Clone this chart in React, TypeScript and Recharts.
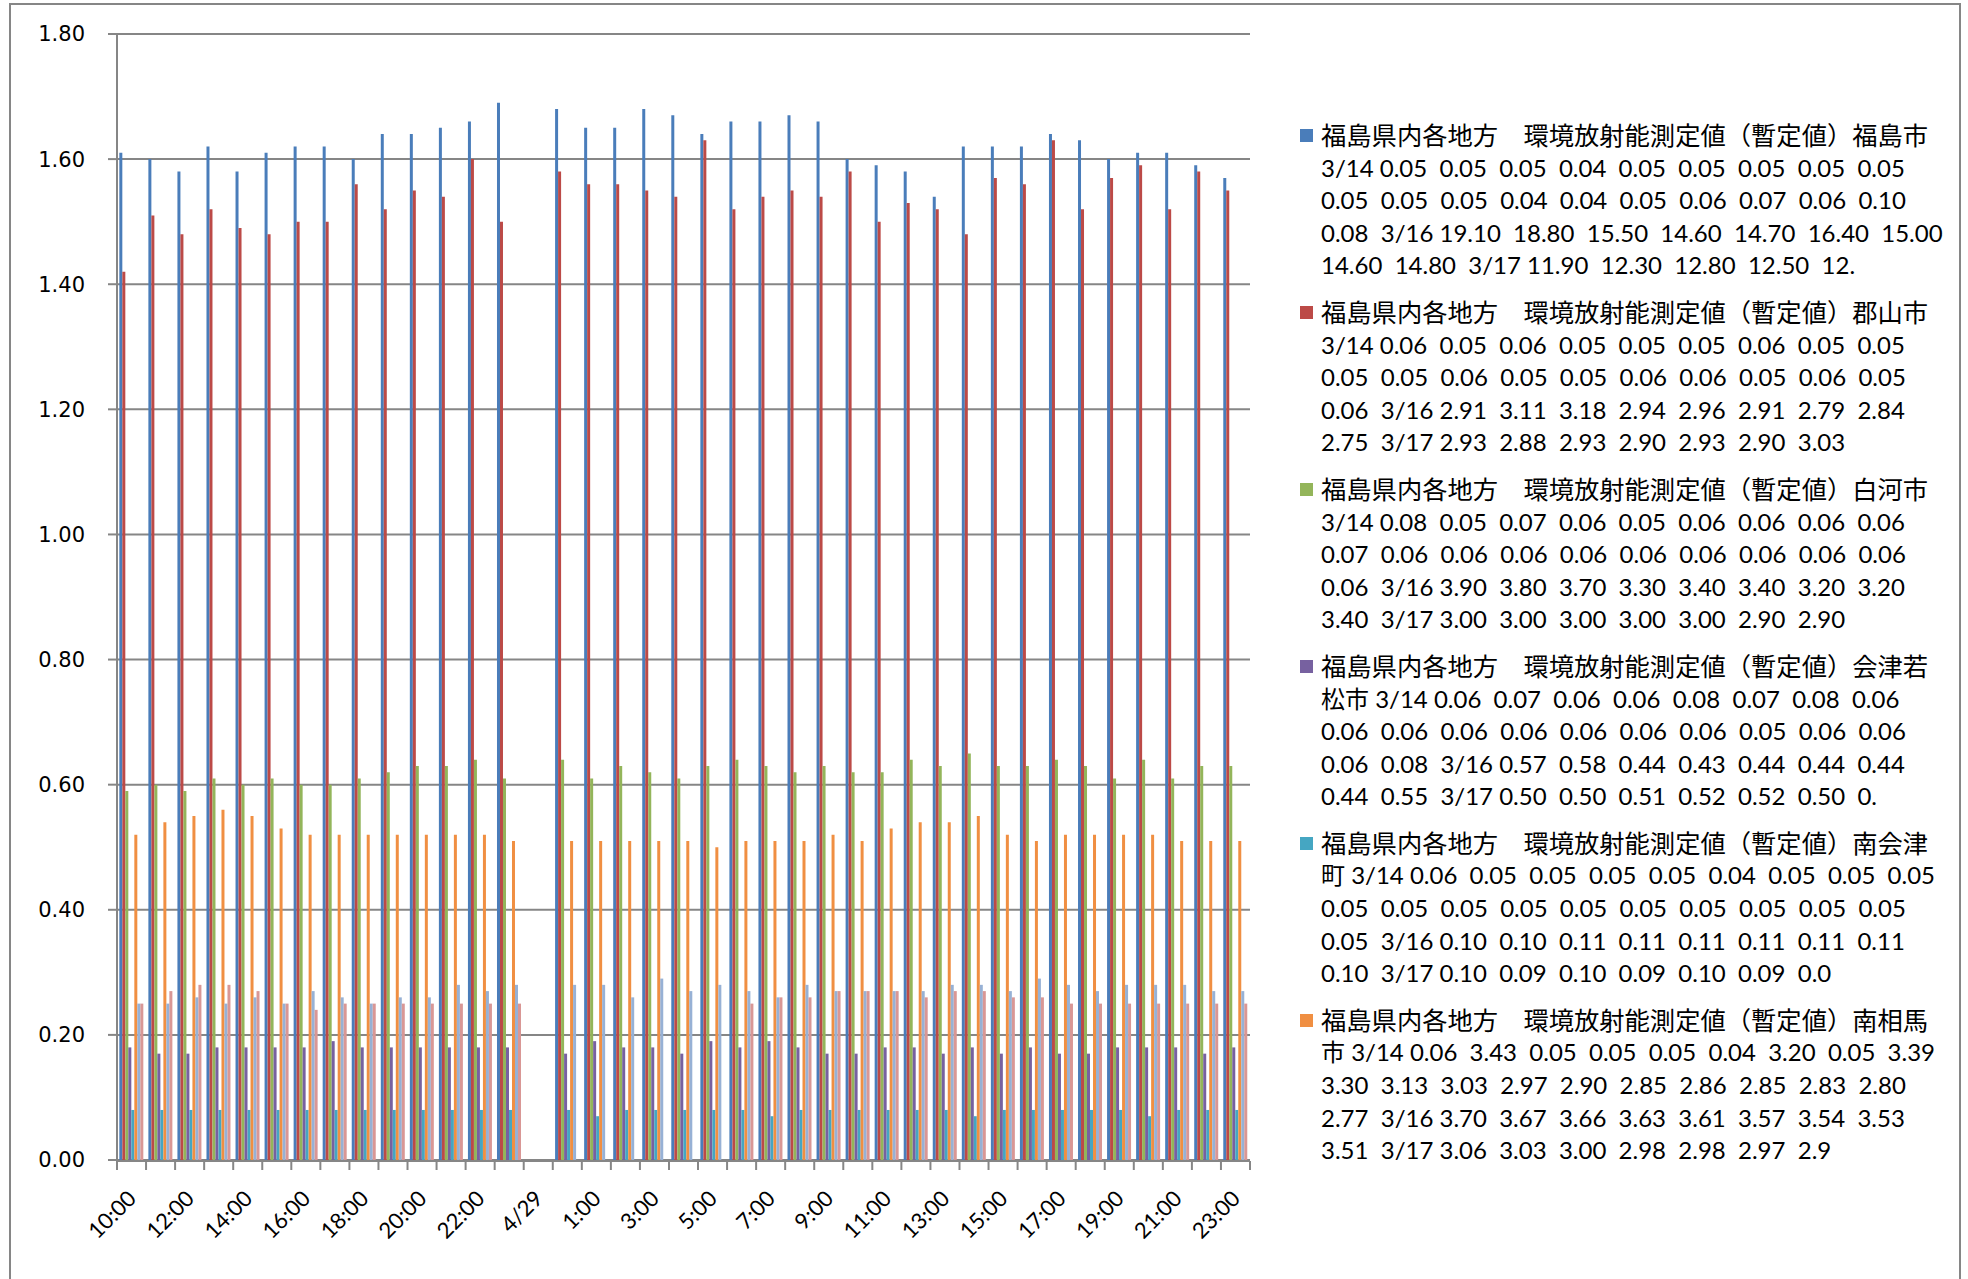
import React from 'react'
import { BarChart, Bar, XAxis, YAxis, CartesianGrid, Legend } from 'recharts'

const CATEGORIES = [
  '10:00', '11:00', '12:00', '13:00', '14:00', '15:00', '16:00', '17:00', '18:00', '19:00',
  '20:00', '21:00', '22:00', '23:00', '4/29', '0:00', '1:00', '2:00', '3:00', '4:00',
  '5:00', '6:00', '7:00', '8:00', '9:00', '10:00', '11:00', '12:00', '13:00', '14:00',
  '15:00', '16:00', '17:00', '18:00', '19:00', '20:00', '21:00', '22:00', '23:00',
]

const FUKUSHIMA = [1.61, 1.60, 1.58, 1.62, 1.58, 1.61, 1.62, 1.62, 1.60, 1.64, 1.64, 1.65, 1.66, 1.69, null,
  1.68, 1.65, 1.65, 1.68, 1.67, 1.64, 1.66, 1.66, 1.67, 1.66, 1.60, 1.59, 1.58, 1.54, 1.62, 1.62, 1.62, 1.64, 1.63, 1.60, 1.61, 1.61, 1.59, 1.57]
const KORIYAMA = [1.42, 1.51, 1.48, 1.52, 1.49, 1.48, 1.50, 1.50, 1.56, 1.52, 1.55, 1.54, 1.60, 1.50, null,
  1.58, 1.56, 1.56, 1.55, 1.54, 1.63, 1.52, 1.54, 1.55, 1.54, 1.58, 1.50, 1.53, 1.52, 1.48, 1.57, 1.56, 1.63, 1.52, 1.57, 1.59, 1.52, 1.58, 1.55]
const SHIRAKAWA = [0.59, 0.60, 0.59, 0.61, 0.60, 0.61, 0.60, 0.60, 0.61, 0.62, 0.63, 0.63, 0.64, 0.61, null,
  0.64, 0.61, 0.63, 0.62, 0.61, 0.63, 0.64, 0.63, 0.62, 0.63, 0.62, 0.62, 0.64, 0.63, 0.65, 0.63, 0.63, 0.64, 0.63, 0.61, 0.64, 0.61, 0.63, 0.63]
const AIZUWAKAMATSU = [0.18, 0.17, 0.17, 0.18, 0.18, 0.18, 0.18, 0.19, 0.18, 0.18, 0.18, 0.18, 0.18, 0.18, null,
  0.17, 0.19, 0.18, 0.18, 0.17, 0.19, 0.18, 0.19, 0.18, 0.17, 0.17, 0.18, 0.18, 0.17, 0.18, 0.17, 0.18, 0.17, 0.17, 0.18, 0.18, 0.18, 0.17, 0.18]
const MINAMIAIZU = [0.08, 0.08, 0.08, 0.08, 0.08, 0.08, 0.08, 0.08, 0.08, 0.08, 0.08, 0.08, 0.08, 0.08, null,
  0.08, 0.07, 0.08, 0.08, 0.08, 0.08, 0.08, 0.07, 0.08, 0.08, 0.08, 0.08, 0.08, 0.08, 0.07, 0.08, 0.08, 0.08, 0.08, 0.08, 0.07, 0.08, 0.08, 0.08]
const MINAMISOMA = [0.52, 0.54, 0.55, 0.56, 0.55, 0.53, 0.52, 0.52, 0.52, 0.52, 0.52, 0.52, 0.52, 0.51, null,
  0.51, 0.51, 0.51, 0.51, 0.51, 0.50, 0.51, 0.51, 0.51, 0.52, 0.51, 0.53, 0.54, 0.54, 0.55, 0.52, 0.51, 0.52, 0.52, 0.52, 0.52, 0.51, 0.51, 0.51]
const SERIES7 = [0.25, 0.25, 0.26, 0.25, 0.26, 0.25, 0.27, 0.26, 0.25, 0.26, 0.26, 0.28, 0.27, 0.28, null,
  0.28, 0.28, 0.26, 0.29, 0.27, 0.28, 0.27, 0.26, 0.28, 0.27, 0.27, 0.27, 0.27, 0.28, 0.28, 0.27, 0.29, 0.28, 0.27, 0.28, 0.28, 0.28, 0.27, 0.27]
const SERIES8 = [0.25, 0.27, 0.28, 0.28, 0.27, 0.25, 0.24, 0.25, 0.25, 0.25, 0.25, 0.25, 0.25, 0.25, null,
  null, null, null, null, null, null, 0.25, 0.26, 0.26, 0.27, 0.27, 0.27, 0.26, 0.27, 0.27, 0.26, 0.26, 0.25, 0.25, 0.25, 0.25, 0.25, 0.25, 0.25]

const Y_TICKS = [0, 0.2, 0.4, 0.6, 0.8, 1.0, 1.2, 1.4, 1.6, 1.8]
// tick marks sit between categories, like excel
const BOUNDARY_TICKS = Array.from({ length: CATEGORIES.length + 1 }, (_, i) => i)

const SERIES = [
  { key: 's1', values: FUKUSHIMA, color: '#4A7DBA', name: '福島市' },
  { key: 's2', values: KORIYAMA, color: '#BC4A47', name: '郡山市' },
  { key: 's3', values: SHIRAKAWA, color: '#93B55A', name: '白河市' },
  { key: 's4', values: AIZUWAKAMATSU, color: '#7761A0', name: '会津若松市' },
  { key: 's5', values: MINAMIAIZU, color: '#45A6C2', name: '南会津町' },
  { key: 's6', values: MINAMISOMA, color: '#F08F42', name: '南相馬市' },
  { key: 's7', values: SERIES7, color: '#97B1D5', name: '系列7' },
  { key: 's8', values: SERIES8, color: '#D99795', name: '系列8' },
]

// legend text exactly as the (truncated) excel legend wraps it
const LEGEND_LINES = [
  ['福島県内各地方　環境放射能測定値（暫定値）福島市',
    '3/14 0.05  0.05  0.05  0.04  0.05  0.05  0.05  0.05  0.05',
    '0.05  0.05  0.05  0.04  0.04  0.05  0.06  0.07  0.06  0.10',
    '0.08  3/16 19.10  18.80  15.50  14.60  14.70  16.40  15.00',
    '14.60  14.80  3/17 11.90  12.30  12.80  12.50  12.'],
  ['福島県内各地方　環境放射能測定値（暫定値）郡山市',
    '3/14 0.06  0.05  0.06  0.05  0.05  0.05  0.06  0.05  0.05',
    '0.05  0.05  0.06  0.05  0.05  0.06  0.06  0.05  0.06  0.05',
    '0.06  3/16 2.91  3.11  3.18  2.94  2.96  2.91  2.79  2.84',
    '2.75  3/17 2.93  2.88  2.93  2.90  2.93  2.90  3.03'],
  ['福島県内各地方　環境放射能測定値（暫定値）白河市',
    '3/14 0.08  0.05  0.07  0.06  0.05  0.06  0.06  0.06  0.06',
    '0.07  0.06  0.06  0.06  0.06  0.06  0.06  0.06  0.06  0.06',
    '0.06  3/16 3.90  3.80  3.70  3.30  3.40  3.40  3.20  3.20',
    '3.40  3/17 3.00  3.00  3.00  3.00  3.00  2.90  2.90'],
  ['福島県内各地方　環境放射能測定値（暫定値）会津若',
    '松市 3/14 0.06  0.07  0.06  0.06  0.08  0.07  0.08  0.06',
    '0.06  0.06  0.06  0.06  0.06  0.06  0.06  0.05  0.06  0.06',
    '0.06  0.08  3/16 0.57  0.58  0.44  0.43  0.44  0.44  0.44',
    '0.44  0.55  3/17 0.50  0.50  0.51  0.52  0.52  0.50  0.'],
  ['福島県内各地方　環境放射能測定値（暫定値）南会津',
    '町 3/14 0.06  0.05  0.05  0.05  0.05  0.04  0.05  0.05  0.05',
    '0.05  0.05  0.05  0.05  0.05  0.05  0.05  0.05  0.05  0.05',
    '0.05  3/16 0.10  0.10  0.11  0.11  0.11  0.11  0.11  0.11',
    '0.10  3/17 0.10  0.09  0.10  0.09  0.10  0.09  0.0'],
  ['福島県内各地方　環境放射能測定値（暫定値）南相馬',
    '市 3/14 0.06  3.43  0.05  0.05  0.05  0.04  3.20  0.05  3.39',
    '3.30  3.13  3.03  2.97  2.90  2.85  2.86  2.85  2.83  2.80',
    '2.77  3/16 3.70  3.67  3.66  3.63  3.61  3.57  3.54  3.53',
    '3.51  3/17 3.06  3.03  3.00  2.98  2.98  2.97  2.9'],
]

const data = CATEGORIES.map((c, i) => {
  const row: Record<string, any> = { cat: c, idx: i + 0.5 }
  SERIES.forEach(s => { row[s.key] = s.values[i] })
  return row
})

const AXIS = '#868686'
const LINE_H = 32.6

function XTick({ x, y, payload }: any) {
  const tx = x + 6
  return (
    <text x={tx} y={y} transform={`rotate(-45 ${tx} ${y})`} textAnchor="end"
      fontFamily="Lato, 'Noto Sans'" fontSize={22} fill="#000">
      {payload.value}
    </text>
  )
}

function LegendBox() {
  return (
    <div style={{ fontFamily: "Lato, 'Noto Sans CJK JP'", color: '#000' }}>
      {LEGEND_LINES.map((lines, i) => (
        <div key={i} style={{ position: 'relative', marginBottom: 14, paddingLeft: 25 }}>
          <div style={{
            position: 'absolute', left: 4, top: (LINE_H - 13) / 2, width: 13, height: 13,
            background: SERIES[i].color,
          }} />
          {lines.map((l, j) => (
            <div key={j} style={{
              height: LINE_H, lineHeight: `${LINE_H}px`, whiteSpace: 'pre',
              fontSize: j === 0 ? 25.3 : 24,
            }}>{l}</div>
          ))}
        </div>
      ))}
    </div>
  )
}

export default function App() {
  return (
    <div style={{ position: 'absolute', left: 0, top: 0, width: 1968, height: 1279, background: '#fff', overflow: 'hidden' }}>
      <div style={{
        position: 'absolute', left: 9, top: 3, width: 1952, height: 1300,
        border: `2px solid ${AXIS}`, boxSizing: 'border-box',
      }} />
      <BarChart width={1968} height={1279} data={data}
        margin={{ top: 34, right: 718, bottom: 0, left: 17 }}
        barCategoryGap="8%" barGap={0}>
        <XAxis xAxisId="cat" dataKey="cat" interval={1} height={1} tickSize={0} tickMargin={40}
          axisLine={false} tickLine={false} tick={<XTick />} />
        <XAxis xAxisId="grid" dataKey="idx" type="number" domain={[0, CATEGORIES.length]}
          ticks={BOUNDARY_TICKS} allowDataOverflow height={118} tickSize={9} interval={0}
          tickFormatter={() => ''}
          axisLine={{ stroke: AXIS, strokeWidth: 2 }} tickLine={{ stroke: AXIS, strokeWidth: 2 }} />
        <YAxis domain={[0, 1.8]} ticks={Y_TICKS} width={100} tickSize={9} tickMargin={23}
          interval={0}
          tickFormatter={(v: number) => v.toFixed(2)}
          tick={{ fill: '#000', fontSize: 21, fontFamily: "'DejaVu Sans'" }}
          axisLine={{ stroke: AXIS, strokeWidth: 2 }} tickLine={{ stroke: AXIS, strokeWidth: 2 }} />
        <CartesianGrid xAxisId="cat" vertical={false} stroke={AXIS} strokeWidth={2} />
        <Legend layout="horizontal" align="center" verticalAlign="middle" width={660}
          wrapperStyle={{ left: 1296, top: 119, width: 660 }} content={() => <LegendBox />} />
        {SERIES.map(s => (
          <Bar key={s.key} xAxisId="cat" dataKey={s.key} name={s.name} fill={s.color}
            isAnimationActive={false} />
        ))}
      </BarChart>
    </div>
  )
}
